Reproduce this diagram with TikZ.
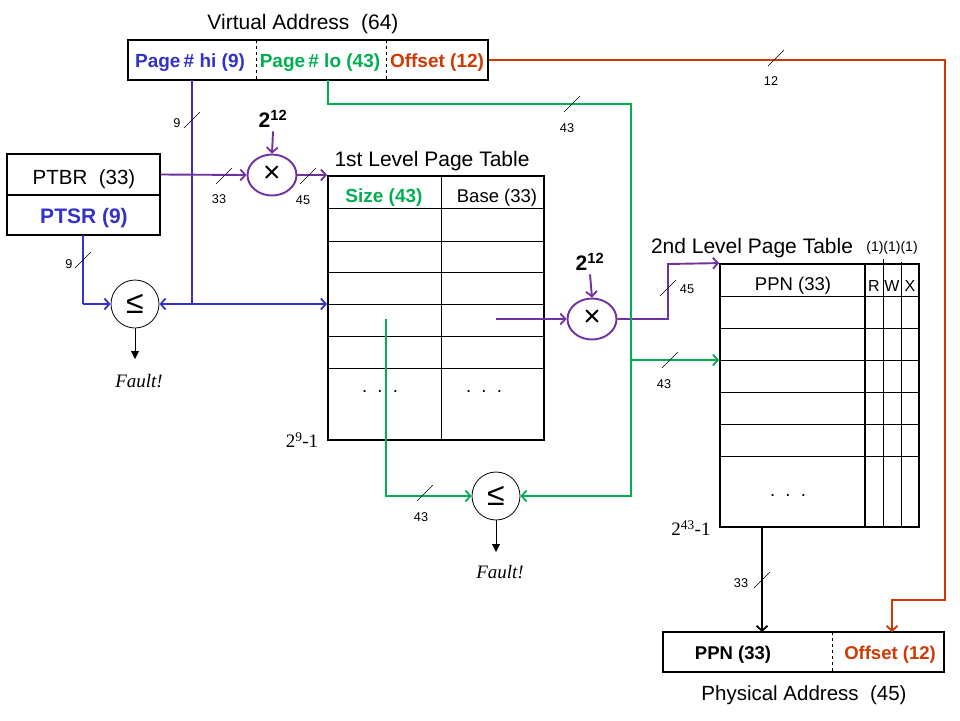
\documentclass[tikz,border=0pt]{standalone}
\usepackage{fontspec}
\setmainfont{Liberation Sans}
\newfontfamily\serifff{Liberation Serif}
\usetikzlibrary{arrows.meta,shapes.geometric}
\definecolor{bluec}{RGB}{51,51,204}
\definecolor{greenc}{RGB}{0,176,80}
\definecolor{orangec}{RGB}{208,56,4}
\definecolor{purplec}{RGB}{112,48,160}
\begin{document}
\begin{tikzpicture}[x=1pt,y=-1pt,
  thickbox/.style={draw,line width=1.8pt,inner sep=0pt},
  thin/.style={line width=0.9pt},
  wire/.style={line width=1.9pt},
  barb/.style={-{Straight Barb[length=5pt,width=11pt,line width=1.8pt]}},
  tri/.style={-{Triangle[length=8pt,width=8pt]}},
  dn/.style={yshift=-3pt},
  ttl/.style={dn,font=\fontsize{21}{25}\selectfont},
  fld/.style={dn,font=\fontsize{19}{22}\selectfont\bfseries},
  cell/.style={dn,font=\fontsize{18.5}{22}\selectfont},
  bus/.style={font=\fontsize{12.7}{15}\selectfont},
  fault/.style={font=\fontsize{19}{22}\selectfont\serifff\itshape},
  idx/.style={font=\fontsize{19}{22}\selectfont\serifff},
  pw/.style={font=\fontsize{21}{25}\selectfont\bfseries},
  cmp/.style={circle,draw,line width=0.8pt,minimum size=48pt,inner sep=0pt,font=\fontsize{32}{34}\selectfont},
  mul/.style={ellipse,draw=purplec,line width=1.9pt,minimum width=49pt,minimum height=41pt,inner sep=0pt,font=\fontsize{30}{32}\selectfont},
  busmark/.pic={\draw[line width=0.6pt] (-8,8) -- (8,-8);}
]
\useasboundingbox (0,0) rectangle (960,720);

% ---------- Virtual address ----------
\node[ttl] (vatitle) at (303,21) {Virtual Address\ \ (64)};
\node[thickbox,minimum width=360pt,minimum height=40pt] (va) at (308,60) {};
\draw[thin,dashed] (256,40) -- (256,80);
\draw[thin,dashed] (386,40) -- (386,80);
\node[fld,text=bluec] (vahi) at (190,60) {Page\,\# hi (9)};
\node[fld,text=greenc] (valo) at (320,60) {Page\,\# lo (43)};
\node[fld,text=orangec] (vaoff) at (437,60) {Offset (12)};
\coordinate (vahib) at (192,80);
\coordinate (valob) at (328,80);

% ---------- PTBR / PTSR ----------
\node[thickbox,minimum width=153pt,minimum height=41pt] (ptbr) at (83.5,174.5) {};
\node[dn,font=\fontsize{20.5}{24}\selectfont] (ptbrt) at (84,176) {PTBR\ \ (33)};
\node[thickbox,minimum width=153pt,minimum height=40pt] (ptsr) at (83.5,215) {};
\node[dn,font=\fontsize{21}{24}\selectfont\bfseries,text=bluec] (ptsrt) at (84,215) {PTSR (9)};
\coordinate (ptsrb) at (83,235);

% ---------- multiplier 1 ----------
\node[mul] (m1) at (272,175) {\raisebox{1pt}{×}};
\node[pw] (p1) at (273,119) {2\textsuperscript{12}};

% ---------- comparator 1 ----------
\node[cmp] (le1) at (135,304) {≤};
\node[fault] (f1) at (139,381) {Fault!};

% ---------- 1st level table ----------
\node[ttl] (t1title) at (432,158) {1st Level Page Table};
\node[thickbox,minimum width=216pt,minimum height=264pt] (t1) at (436,308) {};
\foreach \yy in {208,241,272,304,336,368} \draw[thin] (328,\yy) -- (544,\yy);
\draw[thin] (441,176) -- (441,440);
\node[fld,text=greenc] (t1size) at (384,195) {Size (43)};
\node[cell] (t1base) at (497,195) {Base (33)};
\node[cell] (t1d1) at (380,389) {.\ \ .\ \ .};
\node[cell] (t1d2) at (484,389) {.\ \ .\ \ .};
\node[idx] (t1idx) at (302,440) {2\textsuperscript{9}-1};
\coordinate (t1g) at (386,319);
\coordinate (t1p) at (496,319);

% ---------- multiplier 2 ----------
\node[mul] (m2) at (592,319) {\raisebox{1pt}{×}};
\node[pw] (p2) at (590,262) {2\textsuperscript{12}};

% ---------- comparator 2 ----------
\node[cmp] (le2) at (496,496) {≤};
\node[fault] (f2) at (500,572) {Fault!};

% ---------- 2nd level table ----------
\node[ttl] (t2title) at (752,245) {2nd Level Page Table};
\node[font=\fontsize{14}{16}\selectfont] (rwxw) at (892,248) {(1)(1)(1)};
\node[thickbox,minimum width=199pt,minimum height=263pt] (t2) at (819.5,395.5) {};
\foreach \yy in {296,328,360,392,424,456} \draw[thin] (720,\yy) -- (919,\yy);
\draw[line width=1.8pt] (865,264) -- (865,527);
\draw[thin] (883,259) -- (883,526);
\draw[thin] (901,262) -- (901,526);
\node[cell] (t2ppn) at (793,283) {PPN (33)};
\node[dn,font=\fontsize{16}{18}\selectfont] (t2r) at (874,283) {R};
\node[dn,font=\fontsize{16}{18}\selectfont] (t2w) at (892,283) {W};
\node[dn,font=\fontsize{16}{18}\selectfont] (t2x) at (910,283) {X};
\node[cell] (t2d) at (788,493) {.\ \ .\ \ .};
\node[idx] (t2idx) at (691,528) {2\textsuperscript{43}-1};
\coordinate (t2b) at (762,527);

% ---------- physical address ----------
\node[thickbox,minimum width=281pt,minimum height=40pt] (pa) at (803.5,652) {};
\draw[thin,dashed] (832,632) -- (832,672);
\node[dn,font=\fontsize{18.5}{22}\selectfont\bfseries] (pappn) at (733,652) {PPN (33)};
\node[dn,font=\fontsize{18.5}{22}\selectfont\bfseries,text=orangec] (paoff) at (890,652) {Offset (12)};
\node[dn,font=\fontsize{20.5}{24}\selectfont] (patitle) at (804,692) {Physical Address\ \ (45)};

% ---------- blue wires ----------
\draw[wire,bluec] (vahib) -- (192,304) coordinate (bj);
\draw[wire,bluec,barb] (bj) -- (le1.east);
\draw[wire,bluec,barb] (bj) -- (t1.west |- bj);
\draw[wire,bluec] (ptsrb) -- (83,304) coordinate (sj);
\draw[wire,bluec,barb] (sj) -- (le1.west);
\pic at (192,120) {busmark};
\node[bus] (b9a) at (177,123) {9};
\pic at (83,260) {busmark};
\node[bus] (b9b) at (69,264) {9};

% ---------- purple wires ----------
\draw[wire,purplec,barb] (ptbr.east) -- (m1.west);
\draw[wire,purplec,barb] (p1.south) -- (m1.north);
\draw[wire,purplec,barb] (m1.east) -- (m1.east -| t1.west);
\pic at (224,176) {busmark};
\node[bus] (b33a) at (219,199) {33};
\pic at (308,176) {busmark};
\node[bus] (b45a) at (303,200) {45};
\draw[wire,purplec,barb] (t1p) -- (m2.west);
\draw[wire,purplec,barb] (p2.south) -- (m2.north);
\draw[wire,purplec,barb] (m2.east) -- (668,319) -- (668,264) -- (t2.north west);
\pic at (668,288) {busmark};
\node[bus] (b45b) at (687,289) {45};

% ---------- green wires ----------
\draw[wire,greenc,barb] (valob) -- (328,104) -- (631,104) -- (631,496) -- (le2.east);
\draw[wire,greenc,barb] (631,360) -- (t2.west |- 0,360);
\draw[wire,greenc,barb] (t1g) -- (386,496) -- (le2.west);
\pic at (572,104) {busmark};
\node[bus] (b43a) at (567,128) {43};
\pic at (670,360) {busmark};
\node[bus] (b43b) at (664,384) {43};
\pic at (425,493) {busmark};
\node[bus] (b43c) at (421,517) {43};

% ---------- orange wire ----------
\draw[wire,orangec,barb] (va.east) -- (945,60) -- (945,600) -- (892,600) -- (892,632);
\pic at (776,58) {busmark};
\node[bus] (b12) at (771,81) {12};

% ---------- black wires ----------
\draw[wire,black,barb] (t2b) -- (762,632);
\pic at (762,580) {busmark};
\node[bus] (b33b) at (741,583) {33};
\draw[line width=0.9pt,tri] (le1.south) -- (135,359);
\draw[line width=0.9pt,tri] (le2.south) -- (496,552);
\end{tikzpicture}
\end{document}
